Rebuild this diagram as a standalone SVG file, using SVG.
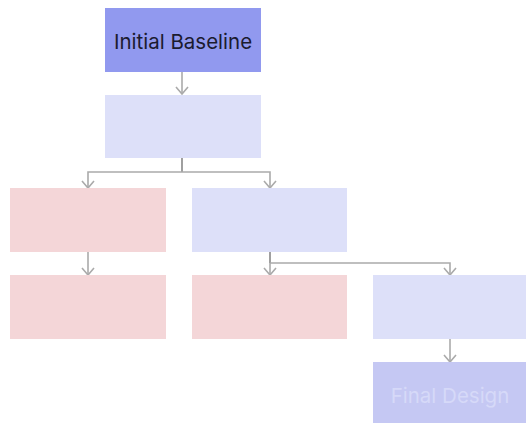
<svg xmlns="http://www.w3.org/2000/svg" width="526" height="423" viewBox="0 0 526 423">
<defs>
<style>
.n rect{stroke:none}
.blue rect{fill:#dde0f9}
.red rect{fill:#f4d6d8}
.c{fill:none;stroke:#aaaaaa;stroke-width:1.6}
.stem{fill:none;stroke:#888888;stroke-width:1.6}
text{font-family:Inter,"Noto Sans",sans-serif;font-size:20.5px;text-anchor:middle;dominant-baseline:central}
</style>
<marker id="ah" viewBox="0 0 12 14" refX="10" refY="7" markerWidth="12" markerHeight="14" markerUnits="userSpaceOnUse" orient="auto">
<path d="M3,1 L10,7 L3,13" fill="none" stroke="#aaaaaa" stroke-width="1.6"/>
</marker>
</defs>
<rect width="526" height="423" fill="#ffffff"/>
<g id="connectors">
<path class="c" d="M182,72 V94" marker-end="url(#ah)"/>
<path class="stem" d="M182,158 V172"/>
<path class="c" d="M182,172 H88 V188" marker-end="url(#ah)"/>
<path class="c" d="M182,172 H270 V188" marker-end="url(#ah)"/>
<path class="c" d="M88,252 V275" marker-end="url(#ah)"/>
<path class="stem" d="M270,252 V263"/>
<path class="c" d="M270,263 V275" marker-end="url(#ah)"/>
<path class="c" d="M270,263 H450 V275" marker-end="url(#ah)"/>
<path class="c" d="M450,339 V362" marker-end="url(#ah)"/>
</g>
<g id="initial-baseline" class="n"><rect x="105" y="8" width="156" height="64" fill="#9199ef"/><text x="183" y="41" fill="#1b1b2f">Initial Baseline</text></g>
<g id="node2" class="n blue"><rect x="105" y="95" width="156" height="63"/></g>
<g id="node3" class="n red"><rect x="10" y="188" width="156" height="64"/></g>
<g id="node4" class="n blue"><rect x="192" y="188" width="155" height="64"/></g>
<g id="node5" class="n red"><rect x="10" y="275" width="156" height="64"/></g>
<g id="node6" class="n red"><rect x="192" y="275" width="155" height="64"/></g>
<g id="node7" class="n blue"><rect x="373" y="275" width="155" height="64"/></g>
<g id="final-design" class="n"><rect x="373" y="362" width="155" height="64" fill="#c5c8f3"/><text x="450" y="395" fill="#d6d9f8">Final Design</text></g>
</svg>
